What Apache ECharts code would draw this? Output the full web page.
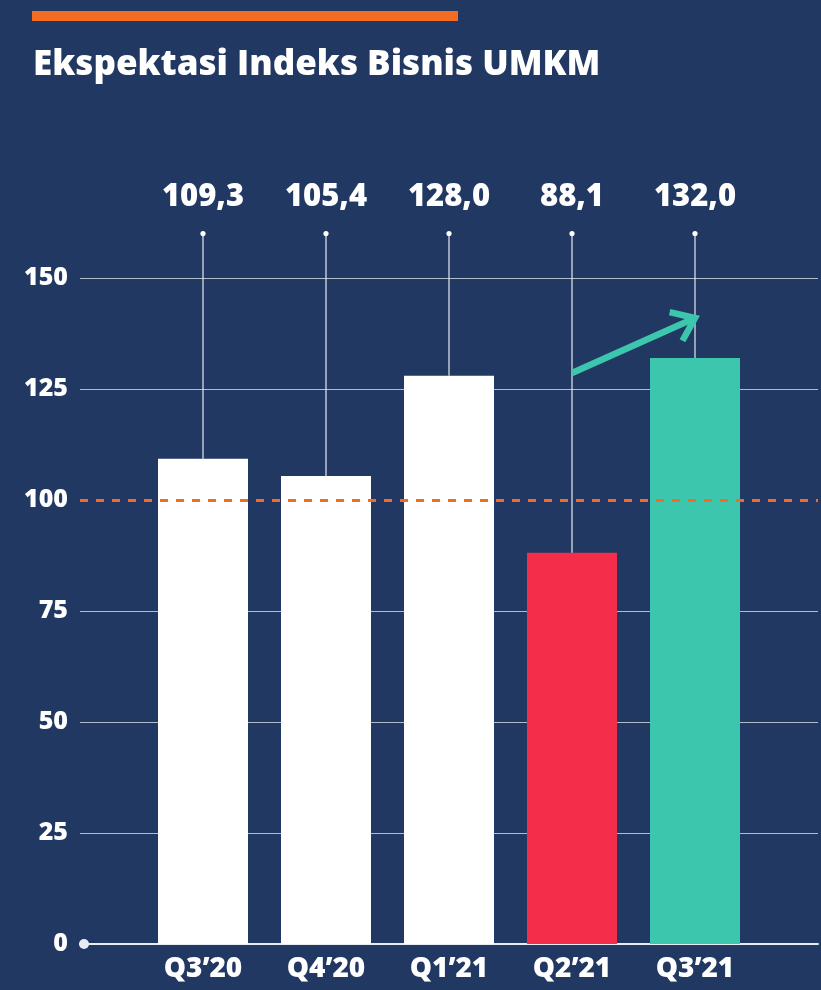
<!DOCTYPE html>
<html>
<head>
<meta charset="utf-8">
<title>Ekspektasi Indeks Bisnis UMKM</title>
<script src="https://cdn.jsdelivr.net/npm/echarts@6/dist/echarts.min.js"></script>
<style>
  html, body { margin: 0; padding: 0; background: #213862; }
  #chart { width: 821px; height: 990px; }
</style>
</head>
<body>
<div id="chart"></div>
<script>
// Quarterly MSME business index expectations
const categories = ['Q3\u201920', 'Q4\u201920', 'Q1\u201921', 'Q2\u201921', 'Q3\u201921'];
const values = [109.3, 105.4, 128.0, 88.1, 132.0];
const barColors = ['#ffffff', '#ffffff', '#ffffff', '#f42d4b', '#3cc6ad'];

// Value axis settings
const yMin = 0;
const yMax = 150;
const yStep = 25;
const referenceLevel = 100;

// Leader lines run from this level down to each bar; value labels sit above
const leaderTop = 160;
const labelLevel = 168.3;

// Trend arrow from Q2'21 towards Q3'21, in data units [x1, y1, x2, y2]
const trendArrow = [3, 128.6, 4, 141.0];

const BG = '#213862';
const ORANGE = '#f46b22';
const TEAL = '#3cc6ad';
const GRID = '#b3bccb';
const FONT = 'Open Sans';
const WEIGHT = 800;

const fmt = v => v.toFixed(1).replace('.', ',');

const chart = echarts.init(document.getElementById('chart'));

chart.setOption({
  backgroundColor: BG,
  animation: false,
  textStyle: { fontFamily: FONT },
  title: {
    text: 'Ekspektasi Indeks Bisnis UMKM',
    left: 28,
    top: 43,
    textStyle: { color: '#ffffff', fontSize: 35, fontWeight: WEIGHT, fontFamily: FONT }
  },
  graphic: [
    { type: 'rect', left: 32, top: 11, shape: { width: 426, height: 10 }, style: { fill: ORANGE } }
  ],
  grid: { left: 80, right: 0, top: 278, bottom: 46 },
  xAxis: {
    type: 'value',
    min: -1,
    max: 5,
    interval: 1,
    splitLine: { show: false },
    axisTick: { show: false },
    axisLine: {
      show: true,
      symbol: ['circle', 'none'],
      symbolSize: [10, 10],
      symbolOffset: [4, 0],
      lineStyle: { color: '#e8ecf2', width: 2 }
    },
    axisLabel: {
      formatter: v => categories[v] || '',
      color: '#ffffff',
      fontSize: 28,
      fontWeight: WEIGHT,
      margin: 11
    }
  },
  yAxis: {
    type: 'value',
    min: yMin,
    max: yMax,
    interval: yStep,
    axisLine: { show: false },
    axisTick: { show: false },
    splitLine: {
      show: true,
      lineStyle: {
        width: 1,
        color: ['rgba(0,0,0,0)', GRID, GRID, GRID, 'rgba(0,0,0,0)', GRID, GRID]
      }
    },
    axisLabel: {
      color: v => (v === referenceLevel ? ORANGE : '#ffffff'),
      fontSize: 25,
      fontWeight: WEIGHT,
      margin: 12
    }
  },
  series: [
    {
      type: 'bar',
      barWidth: 90,
      z: 2,
      data: values.map((v, i) => ({ value: [i, v], itemStyle: { color: barColors[i] } })),
      markLine: {
        silent: true,
        symbol: 'none',
        z: 5,
        label: { show: false },
        lineStyle: { color: ORANGE, type: [8, 8], width: 3, opacity: 1 },
        data: [{ yAxis: referenceLevel }]
      }
    },
    {
      // leader line, end dot and value label for each quarter
      type: 'custom',
      z: 3,
      clip: false,
      data: values.map((v, i) => [i, v]),
      encode: { x: 0, y: 1 },
      renderItem: (params, api) => {
        const x = api.value(0);
        const v = api.value(1);
        const top = api.coord([x, leaderTop]);
        const bottom = api.coord([x, v]);
        const lab = api.coord([x, labelLevel]);
        return {
          type: 'group',
          children: [
            {
              type: 'line',
              shape: { x1: top[0], y1: top[1], x2: bottom[0], y2: bottom[1] },
              style: { stroke: '#e6eaf0', lineWidth: 1.2 }
            },
            {
              type: 'circle',
              shape: { cx: top[0], cy: top[1], r: 2.6 },
              style: { fill: '#ffffff' }
            },
            {
              type: 'text',
              style: {
                text: fmt(v),
                x: lab[0],
                y: lab[1],
                fill: '#ffffff',
                font: WEIGHT + ' 31px "' + FONT + '"',
                align: 'center',
                verticalAlign: 'middle',
                textAlign: 'center',
                textVerticalAlign: 'middle'
              }
            }
          ]
        };
      }
    },
    {
      // upward trend arrow
      type: 'custom',
      z: 6,
      clip: false,
      data: [trendArrow],
      encode: { x: [0, 2], y: [1, 3] },
      renderItem: (params, api) => {
        const p1 = api.coord([api.value(0), api.value(1)]);
        const p2 = api.coord([api.value(2), api.value(3)]);
        const ang = Math.atan2(p1[1] - p2[1], p1[0] - p2[0]);
        const len = 26;
        const spread = 37 * Math.PI / 180;
        const a1 = [p2[0] + len * Math.cos(ang + spread), p2[1] + len * Math.sin(ang + spread)];
        const a2 = [p2[0] + len * Math.cos(ang - spread), p2[1] + len * Math.sin(ang - spread)];
        const st = { stroke: TEAL, lineWidth: 6.5, fill: null, lineJoin: 'miter', lineCap: 'butt' };
        return {
          type: 'group',
          children: [
            { type: 'polyline', shape: { points: [p1, p2] }, style: st },
            { type: 'polyline', shape: { points: [a1, p2, a2] }, style: st }
          ]
        };
      }
    }
  ]
});
</script>
</body>
</html>
